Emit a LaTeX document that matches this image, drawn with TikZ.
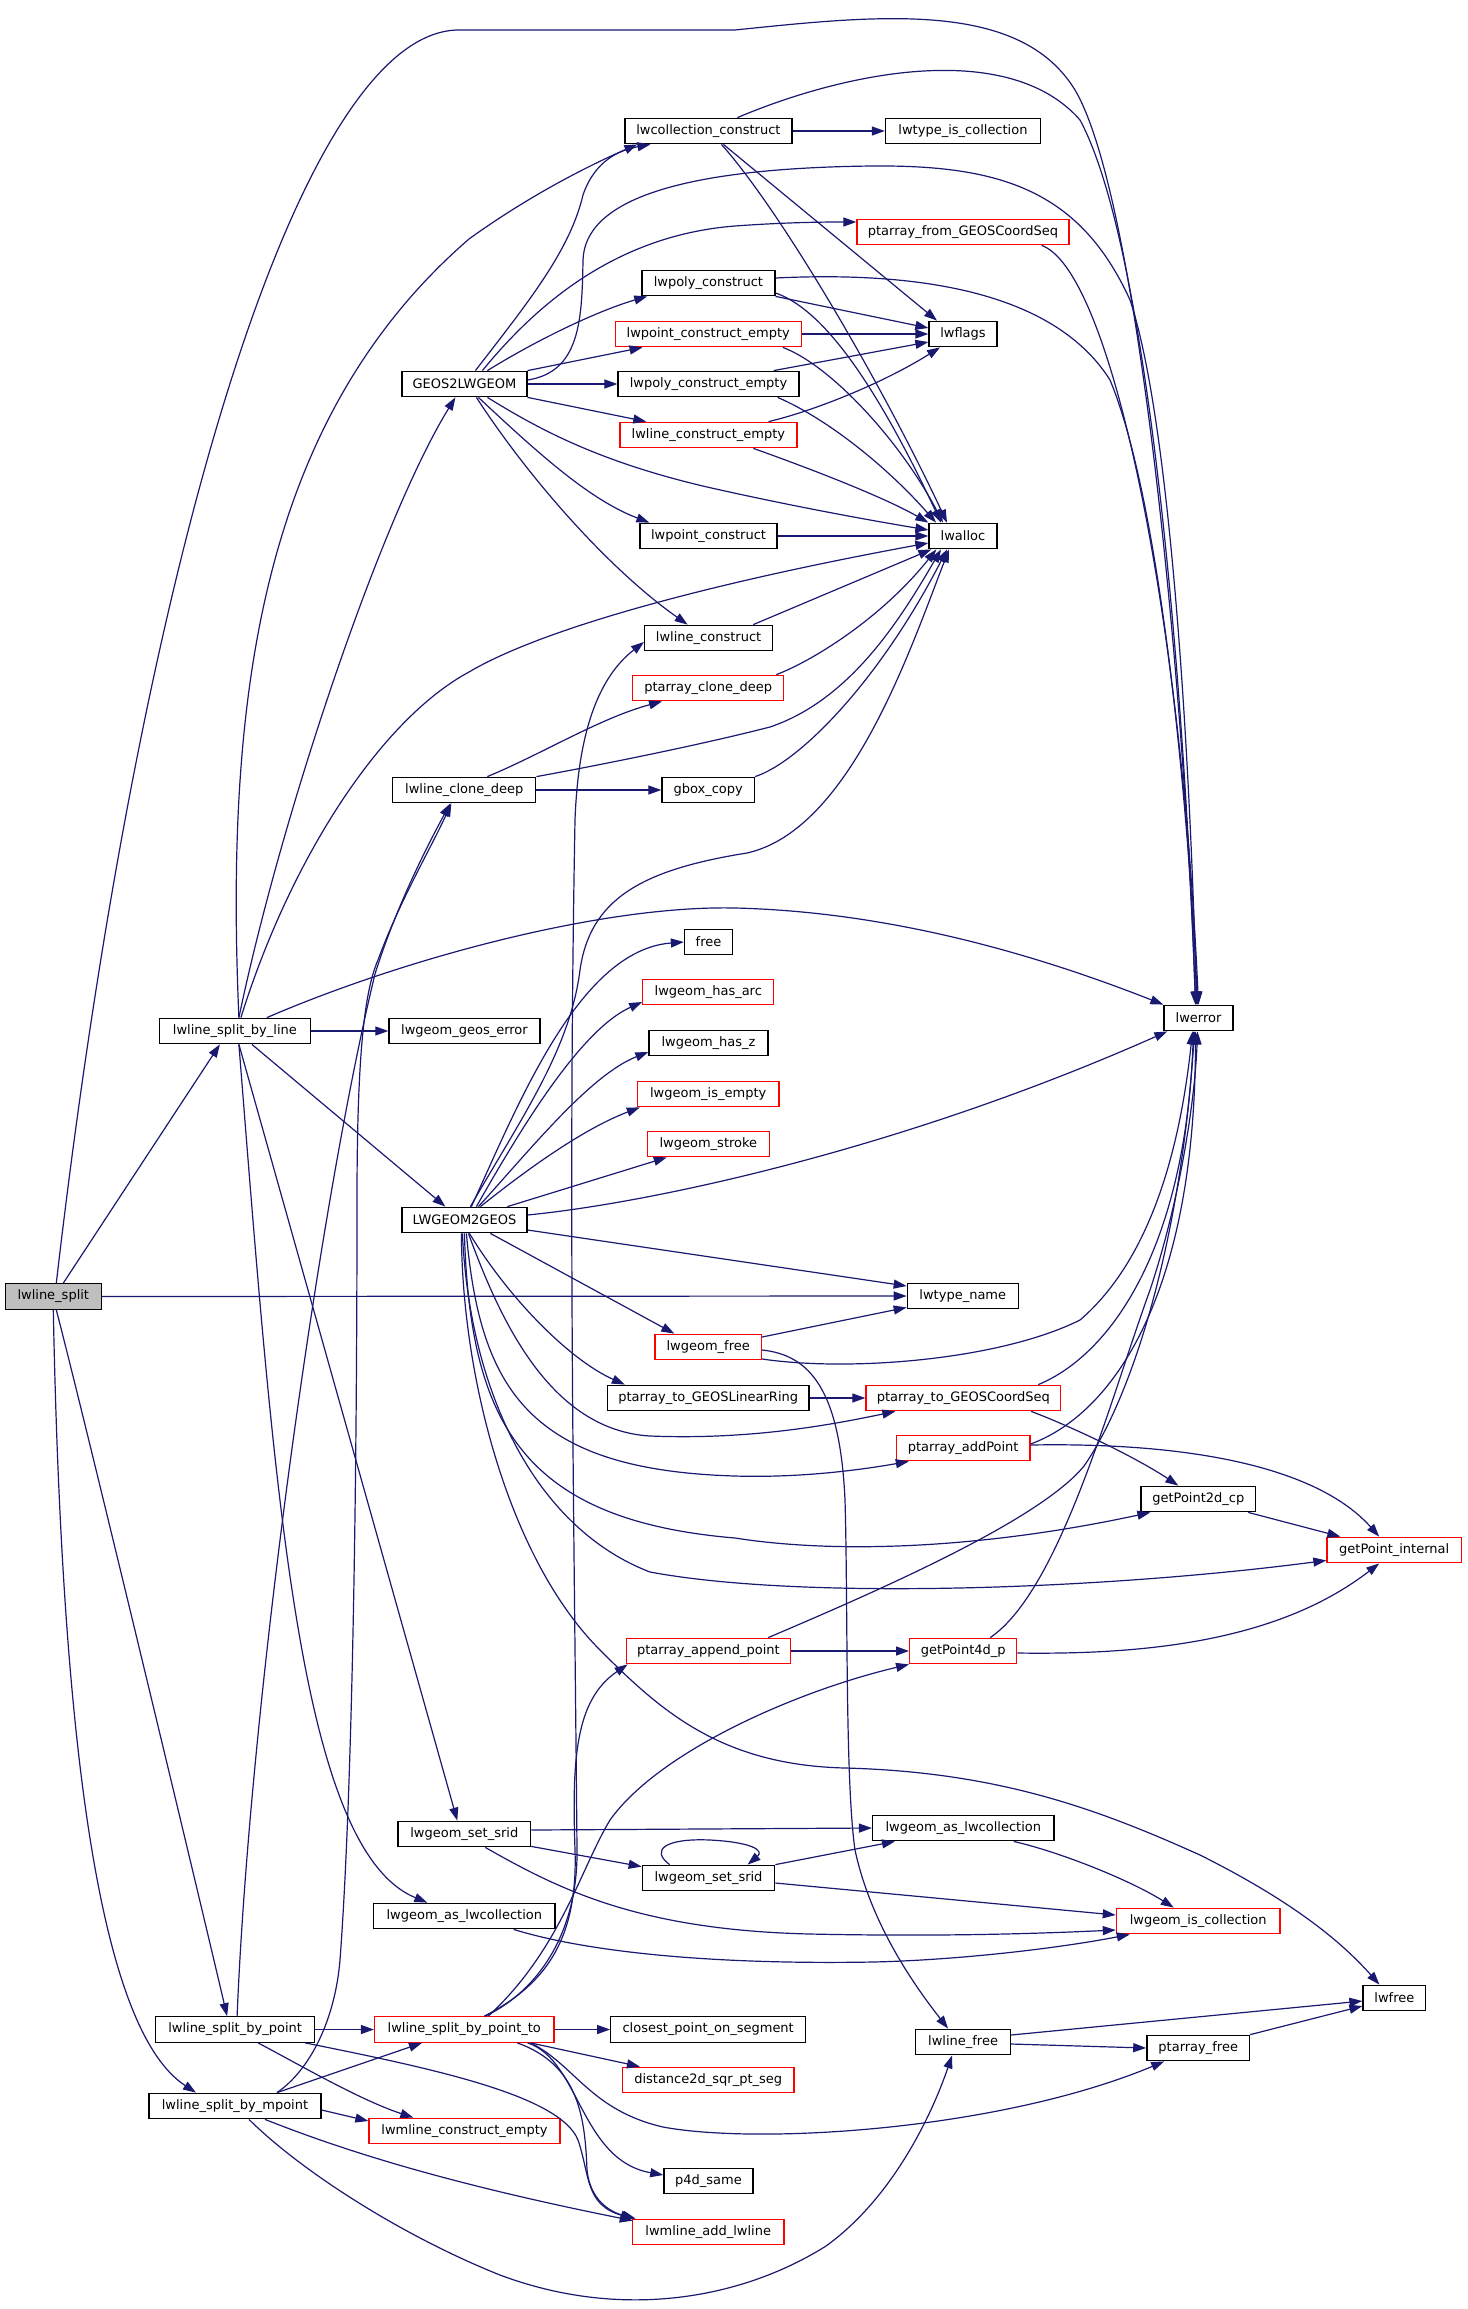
\documentclass[tikz,border=0pt]{standalone}
\usepackage{fontspec}
\setmainfont{DejaVu Sans}
\usetikzlibrary{arrows.meta,calc}
\definecolor{edgec}{RGB}{25,25,112}
\definecolor{grayfill}{RGB}{191,191,191}
\begin{document}
\begin{tikzpicture}[x=1pt,y=-1pt,
  bx/.style={draw=black, line width=1.3pt, fill=white, minimum height=25.5pt, inner sep=0pt, font=\fontsize{13}{15}\selectfont, text=black},
  rb/.style={bx, draw=red},
  ed/.style={draw=edgec, line width=1.2pt, -{Triangle[length=13pt,width=9pt]}}]
\useasboundingbox (0,0) rectangle (1467,2309);
% nodes
\node[bx, fill=grayfill, minimum width=96pt] (split) at (53.3,1296.5) {lwline\_split};
\node[bx, minimum width=151pt] (byline) at (234.9,1031) {lwline\_split\_by\_line};
\node[bx, minimum width=151pt] (geoserr) at (464.5,1031) {lwgeom\_geos\_error};
\node[bx, minimum width=125pt] (g2l) at (464.4,384) {GEOS2LWGEOM};
\node[bx, minimum width=125pt] (l2g) at (464.4,1220) {LWGEOM2GEOS};
\node[bx, minimum width=143pt] (clonedeep) at (464.3,790) {lwline\_clone\_deep};
\node[bx, minimum width=167pt] (collcons) at (708.4,131) {lwcollection\_construct};
\node[bx, minimum width=155pt] (typeiscoll) at (963,131) {lwtype\_is\_collection};
\node[rb, minimum width=212pt] (pafromgeos) at (963,232) {ptarray\_from\_GEOSCoordSeq};
\node[bx, minimum width=133pt] (polycons) at (708.4,283) {lwpoly\_construct};
\node[bx, minimum width=68pt] (flags) at (963,334) {lwflags};
\node[rb, minimum width=186pt] (ptconsempty) at (708.2,334) {lwpoint\_construct\_empty};
\node[bx, minimum width=181pt] (polyconsempty) at (708.5,384) {lwpoly\_construct\_empty};
\node[rb, minimum width=177pt] (lineconsempty) at (708.4,435) {lwline\_construct\_empty};
\node[bx, minimum width=137pt] (ptcons) at (708.5,536) {lwpoint\_construct};
\node[bx, minimum width=68pt] (alloc) at (963,536) {lwalloc};
\node[bx, minimum width=128pt] (linecons) at (708.6,638) {lwline\_construct};
\node[rb, minimum width=151pt] (paclone) at (708.2,688) {ptarray\_clone\_deep};
\node[bx, minimum width=92.5pt] (gbox) at (708.2,790) {gbox\_copy};
\node[bx, minimum width=48pt] (free) at (708.5,942) {free};
\node[rb, minimum width=131pt] (hasarc) at (708.3,992) {lwgeom\_has\_arc};
\node[bx, minimum width=69pt] (error) at (1198.5,1018) {lwerror};
\node[bx, minimum width=119pt] (hasz) at (708.5,1043) {lwgeom\_has\_z};
\node[rb, minimum width=141.5pt] (isempty) at (708.2,1094) {lwgeom\_is\_empty};
\node[rb, minimum width=122pt] (stroke) at (708.4,1144) {lwgeom\_stroke};
\node[bx, minimum width=111pt] (typename) at (962.8,1296) {lwtype\_name};
\node[rb, minimum width=106.5pt] (geomfree) at (708.2,1347) {lwgeom\_free};
\node[bx, minimum width=201.4pt] (paring) at (708.2,1398) {ptarray\_to\_GEOSLinearRing};
\node[rb, minimum width=194.6pt] (pacoord) at (963.3,1398) {ptarray\_to\_GEOSCoordSeq};
\node[rb, minimum width=133.5pt] (addpt) at (963.2,1448) {ptarray\_addPoint};
\node[bx, minimum width=114.6pt] (gp2d) at (1198.3,1499) {getPoint2d\_cp};
\node[rb, minimum width=134.4pt] (gpint) at (1394.2,1550) {getPoint\_internal};
\node[rb, minimum width=164.3pt] (append) at (708.4,1651) {ptarray\_append\_point};
\node[rb, minimum width=107pt] (gp4d) at (963.2,1651) {getPoint4d\_p};
\node[bx, minimum width=132.7pt] (setsridA) at (464.3,1834) {lwgeom\_set\_srid};
\node[bx, minimum width=181.4pt] (aslwcR) at (963.3,1828) {lwgeom\_as\_lwcollection};
\node[bx, minimum width=132.4pt] (setsridB) at (708.5,1878) {lwgeom\_set\_srid};
\node[bx, minimum width=181.4pt] (aslwcL) at (464.3,1916) {lwgeom\_as\_lwcollection};
\node[rb, minimum width=163.6pt] (iscoll) at (1198.2,1921) {lwgeom\_is\_collection};
\node[bx, minimum width=62.8pt] (lwfree) at (1394.4,1998) {lwfree};
\node[bx, minimum width=159pt] (bypoint) at (235.1,2029.5) {lwline\_split\_by\_point};
\node[rb, minimum width=179.4pt] (bypointto) at (464.3,2029.5) {lwline\_split\_by\_point\_to};
\node[bx, minimum width=194.8pt] (closest) at (708.2,2029.5) {closest\_point\_on\_segment};
\node[bx, minimum width=94.7pt] (linefree) at (963.1,2042) {lwline\_free};
\node[bx, minimum width=102.7pt] (pafree) at (1198.2,2048) {ptarray\_free};
\node[rb, minimum width=171.3pt] (dist2d) at (708.2,2080) {distance2d\_sqr\_pt\_seg};
\node[bx, minimum width=172pt] (bympoint) at (235,2106) {lwline\_split\_by\_mpoint};
\node[rb, minimum width=191pt] (mlineempty) at (464.5,2131) {lwmline\_construct\_empty};
\node[bx, minimum width=89pt] (p4d) at (708.4,2181) {p4d\_same};
\node[rb, minimum width=151.6pt] (addlwline) at (708.2,2232) {lwmline\_add\_lwline};
% lwline_split
\draw[ed] ($(split.north)+(3,0)$) .. controls (140,560) and (300,30) .. (459,30) -- (735,30) .. controls (880,15) and (1020,0) .. (1075,90) .. controls (1140,200) and (1185,700) .. ($(error.north)+(-3,0)$);
\draw[ed] ($(split.north)+(10,0)$) -- ($(byline.south)+(-15,0)$);
\draw[ed] (split.east) -- (typename.west);
\draw[ed] ($(split.south)+(3,0)$) .. controls (85,1420) and (200,1900) .. ($(bypoint.north)+(-8,0)$);
\draw[ed] (split.south) .. controls (62,1750) and (100,2030) .. ($(bympoint.north)+(-39,0)$);
% lwline_split_by_line
\draw[ed] ($(byline.north)+(4,0)$) .. controls (225,700) and (260,420) .. (469,239) .. controls (530,195) and (590,165) .. ($(collcons.south)+(-71,0)$);
\draw[ed] ($(byline.north)+(4,0)$) .. controls (280,820) and (380,520) .. ($(g2l.south)+(-9,0)$);
\draw[ed] ($(byline.north)+(6,0)$) .. controls (290,860) and (380,720) .. (469,672) .. controls (540,630) and (700,585) .. ($(alloc.west)+(0,7)$);
\draw[ed] (byline.east) -- (geoserr.west);
\draw[ed] ($(byline.south)+(17,0)$) -- ($(l2g.north)+(-19,0)$);
\draw[ed] ($(byline.north)+(32,0)$) .. controls (400,960) and (600,905) .. (735,908) .. controls (900,912) and (1050,960) .. (error.north west);
\draw[ed] ($(byline.south)+(4,0)$) -- ($(setsridA.north)+(-7,0)$);
\draw[ed] ($(byline.south)+(4,0)$) .. controls (275,1500) and (300,1850) .. ($(aslwcL.north)+(-37,0)$);
% GEOS2LWGEOM
\draw[ed] ($(g2l.north)+(11,0)$) .. controls (530,300) and (570,250) .. (583,195) .. controls (595,160) and (620,150) .. ($(collcons.south)+(-58,0)$);
\draw[ed] ($(g2l.north)+(18,0)$) .. controls (540,300) and (620,235) .. (735,226) .. controls (790,222) and (830,222) .. ($(pafromgeos.west)+(0,-10)$);
\draw[ed] ($(g2l.north)+(23,0)$) .. controls (540,338) and (600,310) .. ($(polycons.south west)+(6,0)$);
\draw[ed] (g2l.north east) -- ($(ptconsempty.south west)+(28,0)$);
\draw[ed] (g2l.east) -- (polyconsempty.west);
\draw[ed] (g2l.south east) -- ($(lineconsempty.north west)+(27,0)$);
\draw[ed] ($(g2l.south)+(23,0)$) .. controls (540,430) and (600,462) .. (707,487) .. controls (800,508) and (880,522) .. ($(alloc.west)+(0,-6)$);
\draw[ed] ($(g2l.south)+(14,0)$) .. controls (540,455) and (590,500) .. ($(ptcons.north west)+(10,0)$);
\draw[ed] ($(g2l.south)+(12,0)$) .. controls (530,480) and (610,570) .. ($(linecons.north)+(-21,0)$);
\draw[ed] ($(g2l.east)+(0,-4)$) .. controls (580,372) and (582,320) .. (583,260) .. controls (585,200) and (680,168) .. (873,166) .. controls (1000,165) and (1080,190) .. (1130,300) .. controls (1170,420) and (1190,750) .. ($(error.north)+(-2,0)$);
% lwcollection_construct
\draw[ed] (collcons.east) -- (typeiscoll.west);
\draw[ed] ($(collcons.south)+(15,0)$) -- ($(flags.north)+(-26,0)$);
\draw[ed] ($(collcons.south)+(13,0)$) .. controls (780,210) and (880,380) .. ($(alloc.north)+(-16,0)$);
\draw[ed] ($(collcons.north)+(29,0)$) .. controls (850,70) and (1010,40) .. (1080,120) .. controls (1150,250) and (1185,700) .. ($(error.north)+(-3,0)$);
% lwpoly_construct
\draw[ed] (polycons.south east) -- ($(flags.west)+(0,-6)$);
\draw[ed] ($(polycons.east)+(0,10)$) .. controls (810,305) and (860,350) .. ($(alloc.north)+(-22,0)$);
\draw[ed] ($(polycons.east)+(0,-5)$) .. controls (900,272) and (1050,285) .. (1110,380) .. controls (1160,500) and (1188,800) .. ($(error.north)+(-1,0)$);
% ptarray_from_GEOSCoordSeq
\draw[ed] ($(pafromgeos.south east)+(-28,0)$) .. controls (1110,270) and (1180,600) .. (error.north);
% constructors
\draw[ed] (ptconsempty.east) -- (flags.west);
\draw[ed] ($(ptconsempty.south east)+(-19,0)$) .. controls (830,365) and (900,440) .. ($(alloc.north)+(-20,0)$);
\draw[ed] ($(polyconsempty.north east)+(-26,0)$) -- ($(flags.west)+(0,8)$);
\draw[ed] ($(polyconsempty.south east)+(-22,0)$) .. controls (830,420) and (890,470) .. ($(alloc.north)+(-27,0)$);
\draw[ed] ($(lineconsempty.north east)+(-29,0)$) .. controls (810,412) and (880,385) .. ($(flags.south)+(-23,0)$);
\draw[ed] ($(lineconsempty.south)+(45,0)$) .. controls (800,465) and (880,495) .. (alloc.north west);
\draw[ed] (ptcons.east) -- (alloc.west);
\draw[ed] ($(linecons.north east)+(-20,0)$) -- ($(alloc.south west)+(3,0)$);
\draw[ed] ($(paclone.north east)+(-8,0)$) .. controls (810,662) and (880,620) .. ($(alloc.south west)+(8,0)$);
% lwline_clone_deep
\draw[ed] (clonedeep.north east) .. controls (600,765) and (700,745) .. (770,727) .. controls (850,700) and (900,620) .. ($(alloc.south)+(-22,0)$);
\draw[ed] ($(clonedeep.north)+(23,0)$) .. controls (540,755) and (600,718) .. ($(paclone.south west)+(30,0)$);
\draw[ed] (clonedeep.east) -- (gbox.west);
\draw[ed] (gbox.north east) .. controls (800,762) and (880,680) .. ($(alloc.south)+(-16,0)$);
% LWGEOM2GEOS
\draw[ed] ($(l2g.north)+(6,0)$) .. controls (520,1120) and (570,1050) .. (580,970) .. controls (590,900) and (640,870) .. (747,853) .. controls (850,830) and (910,650) .. ($(alloc.south)+(-14,0)$);
\draw[ed] ($(l2g.north)+(7,0)$) .. controls (520,1100) and (580,950) .. (free.west);
\draw[ed] ($(l2g.north)+(12,0)$) .. controls (520,1130) and (580,1030) .. ($(hasarc.west)+(0,10)$);
\draw[ed] ($(l2g.north)+(14,0)$) .. controls (530,1150) and (590,1075) .. ($(hasz.west)+(0,9)$);
\draw[ed] ($(l2g.north)+(16,0)$) .. controls (520,1175) and (580,1130) .. ($(isempty.south west)+(3,0)$);
\draw[ed] ($(l2g.north)+(43,0)$) -- ($(stroke.south west)+(20,0)$);
\draw[ed] ($(l2g.east)+(0,-5)$) .. controls (650,1203) and (900,1150) .. ($(error.south west)+(4,0)$);
\draw[ed] ($(l2g.east)+(0,10)$) -- ($(typename.west)+(0,-10)$);
\draw[ed] ($(l2g.south)+(26,0)$) -- ($(geomfree.north west)+(20,0)$);
\draw[ed] ($(l2g.south)+(5,0)$) .. controls (510,1300) and (570,1360) .. ($(paring.north west)+(18,0)$);
\draw[ed] ($(l2g.south)+(4,0)$) .. controls (500,1320) and (550,1430) .. (650,1436) .. controls (750,1440) and (830,1425) .. ($(pacoord.south west)+(30,0)$);
\draw[ed] ($(l2g.south)+(2,0)$) .. controls (480,1390) and (530,1470) .. (735,1476) .. controls (800,1478) and (860,1470) .. ($(addpt.south west)+(13,0)$);
\draw[ed] (l2g.south) .. controls (470,1420) and (520,1520) .. (735,1538) .. controls (850,1556) and (1000,1545) .. ($(gp2d.south west)+(10,0)$);
\draw[ed] ($(l2g.south)+(-2,0)$) .. controls (470,1400) and (540,1530) .. (650,1572) .. controls (800,1600) and (1100,1590) .. ($(gpint.south west)+(0,-3)$);
\draw[ed] ($(l2g.south)+(-3,0)$) .. controls (462,1380) and (510,1560) .. (600,1650) .. controls (660,1710) and (720,1765) .. (845,1768) .. controls (1000,1772) and (1100,1810) .. (1200,1855) .. controls (1290,1900) and (1340,1940) .. ($(lwfree.north)+(-15,0)$);
% lwgeom_free
\draw[ed] ($(geomfree.east)+(0,-10)$) -- ($(typename.south west)+(0,-2)$);
\draw[ed] ($(geomfree.east)+(0,12)$) .. controls (850,1372) and (1000,1360) .. (1080,1320) .. controls (1150,1260) and (1180,1150) .. ($(error.south)+(-6,0)$);
\draw[ed] ($(geomfree.east)+(0,3)$) .. controls (810,1355) and (840,1390) .. (845,1500) .. controls (848,1600) and (845,1780) .. (855,1850) .. controls (870,1920) and (910,1980) .. ($(linefree.north)+(-15,0)$);
% ptarray functions
\draw[ed] (paring.east) -- (pacoord.west);
\draw[ed] ($(pacoord.north east)+(-23,0)$) .. controls (1110,1355) and (1185,1250) .. ($(error.south)+(-5,0)$);
\draw[ed] ($(pacoord.south east)+(-30,0)$) .. controls (1080,1430) and (1140,1460) .. ($(gp2d.north)+(-20,0)$);
\draw[ed] ($(addpt.east)+(0,-4)$) .. controls (1110,1415) and (1195,1300) .. ($(error.south)+(-3,0)$);
\draw[ed] ($(addpt.east)+(0,-3)$) .. controls (1200,1442) and (1320,1470) .. ($(gpint.north)+(-15,0)$);
\draw[ed] ($(gp2d.south east)+(-8,0)$) -- ($(gpint.north west)+(14,0)$);
\draw[ed] (append.east) -- (gp4d.west);
\draw[ed] ($(append.north east)+(-23,0)$) .. controls (880,1590) and (1040,1520) .. (1084,1466) .. controls (1130,1400) and (1180,1250) .. ($(error.south)+(-4,0)$);
\draw[ed] ($(gp4d.north)+(27,0)$) .. controls (1060,1590) and (1110,1400) .. (1150,1290) .. controls (1180,1200) and (1195,1100) .. ($(error.south)+(-1,0)$);
\draw[ed] ($(gp4d.east)+(0,2)$) .. controls (1150,1655) and (1280,1640) .. ($(gpint.south)+(-15,0)$);
% srid / collection
\draw[ed] ($(setsridA.east)+(0,-4)$) -- (aslwcR.west);
\draw[ed] ($(setsridA.south east)+(0,-1)$) -- ($(setsridB.north west)+(0,2)$);
\draw[ed] ($(setsridA.south)+(21,0)$) .. controls (560,1890) and (640,1930) .. (810,1934) .. controls (950,1937) and (1050,1933) .. ($(iscoll.west)+(0,9)$);
\draw[ed] ($(aslwcL.south east)+(-42,0)$) .. controls (580,1950) and (700,1965) .. (873,1962) .. controls (960,1960) and (1060,1948) .. ($(iscoll.south west)+(14,0)$);
\draw[ed] (setsridB.north east) -- ($(aslwcR.south west)+(23,0)$);
\draw[ed] ($(setsridB.east)+(0,5)$) -- ($(iscoll.west)+(0,-6)$);
\draw[ed] ($(setsridB.north west)+(28,0)$) .. controls (650,1850) and (665,1838) .. (710,1840) .. controls (750,1842) and (765,1850) .. ($(setsridB.north west)+(106,0)$);
\draw[ed] ($(aslwcR.south east)+(-41,0)$) .. controls (1060,1852) and (1130,1880) .. ($(iscoll.north west)+(58,0)$);
% lwline_split_by_point_to
\draw[ed] ($(bypointto.north)+(21,0)$) .. controls (540,1990) and (578,1930) .. (577,1850) .. controls (574,1500) and (568,1200) .. (575,820) .. controls (578,740) and (595,680) .. ($(linecons.west)+(0,4)$);
\draw[ed] ($(bypointto.north)+(20,0)$) .. controls (545,1985) and (578,1940) .. (575,1850) .. controls (572,1760) and (575,1700) .. ($(append.south west)+(2,0)$);
\draw[ed] ($(bypointto.north)+(24,0)$) .. controls (560,1950) and (580,1870) .. (610,1820) .. controls (660,1750) and (800,1690) .. (gp4d.south west);
\draw[ed] (bypointto.east) -- (closest.west);
\draw[ed] ($(bypointto.south east)+(-24,0)$) -- ($(dist2d.north west)+(18,0)$);
\draw[ed] ($(bypointto.south east)+(-27,0)$) .. controls (580,2060) and (580,2160) .. ($(p4d.west)+(0,-6)$);
\draw[ed] ($(bypointto.south)+(53,0)$) .. controls (580,2065) and (585,2120) .. (587,2170) .. controls (590,2200) and (610,2212) .. ($(addlwline.north west)+(4,0)$);
\draw[ed] ($(bypointto.south east)+(-24,0)$) .. controls (575,2065) and (590,2110) .. (663,2127) .. controls (760,2145) and (1000,2130) .. ($(pafree.south west)+(18,0)$);
% lwline_split_by_point
\draw[ed] (bypoint.east) -- (bypointto.west);
\draw[ed] ($(bypoint.south)+(23,0)$) .. controls (300,2065) and (360,2100) .. ($(mlineempty.north west)+(45,0)$);
\draw[ed] ($(bypoint.south east)+(-10,0)$) .. controls (430,2068) and (560,2095) .. (578,2140) .. controls (590,2175) and (585,2205) .. ($(addlwline.north west)+(2,0)$);
\draw[ed] ($(bypoint.north)+(2,0)$) .. controls (250,1700) and (320,1200) .. (375,974) .. controls (395,910) and (425,850) .. ($(clonedeep.south)+(-14,0)$);
% lwline_split_by_mpoint
\draw[ed] ($(bympoint.north)+(42,0)$) .. controls (310,2070) and (335,2020) .. (340,1960) .. controls (352,1800) and (357,1500) .. (357,1200) .. controls (357,1050) and (365,990) .. (378,960) .. controls (400,900) and (430,850) .. ($(clonedeep.south)+(-13,0)$);
\draw[ed] ($(bympoint.north)+(42,0)$) -- ($(bypointto.south west)+(48,0)$);
\draw[ed] ($(bympoint.east)+(0,4)$) -- ($(mlineempty.west)+(0,-10)$);
\draw[ed] ($(bympoint.south)+(30,0)$) .. controls (330,2145) and (430,2180) .. ($(addlwline.north west)+(1,2)$);
\draw[ed] ($(bympoint.south)+(14,0)$) .. controls (300,2170) and (400,2235) .. (500,2275) .. controls (620,2320) and (740,2300) .. (826,2246) .. controls (890,2200) and (930,2120) .. ($(linefree.south)+(-11,0)$);
% lwline_free / ptarray_free
\draw[ed] ($(linefree.east)+(0,-7)$) -- ($(lwfree.west)+(0,3)$);
\draw[ed] ($(linefree.east)+(0,2)$) -- (pafree.west);
\draw[ed] (pafree.north east) -- ($(lwfree.west)+(0,8)$);
\end{tikzpicture}
\end{document}
